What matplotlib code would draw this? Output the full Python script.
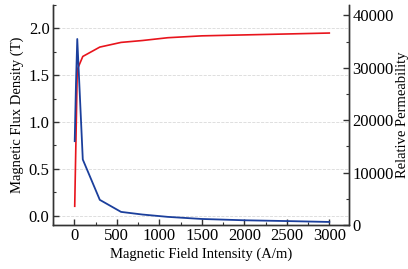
import matplotlib.pyplot as plt
from matplotlib.ticker import MultipleLocator

# B-H curve (left axis)
h_b = [5, 35, 100, 300, 550, 800, 1100, 1500, 2000, 2500, 3000]
flux = [0.1, 1.56, 1.70, 1.80, 1.85, 1.87, 1.90, 1.92, 1.93, 1.94, 1.95]

# relative permeability (right axis)
h_mu = [5, 20, 35, 100, 300, 550, 800, 1100, 1500, 2000, 2500, 3000]
perm = [16000, 27000, 35500, 12500, 4800, 2500, 2000, 1550, 1150, 900, 750, 580]

plt.rcParams['font.family'] = ['Liberation Serif', 'DejaVu Serif']
plt.rcParams['font.size'] = 12

fig = plt.figure(figsize=(4.08, 2.69), dpi=100)
ax = fig.add_axes([0.130, 0.1636, 0.725, 0.818])
ax2 = ax.twinx()

ax.plot(h_b, flux, color='#e8141c', lw=1.2)
ax2.plot(h_mu, perm, color='#1b3f9c', lw=1.3)

ax.set_xlim(-250, 3230)
ax.set_ylim(-0.1, 2.25)
ax2.set_ylim(0, 42000)

ax.xaxis.set_major_locator(MultipleLocator(500))
ax.xaxis.set_minor_locator(MultipleLocator(250))
ax.yaxis.set_major_locator(MultipleLocator(0.5))
ax.yaxis.set_minor_locator(MultipleLocator(0.25))
ax2.yaxis.set_major_locator(MultipleLocator(10000))
ax2.yaxis.set_minor_locator(MultipleLocator(5000))
ax.yaxis.set_major_formatter(lambda v, p: f'{v:.1f}')

for a in (ax, ax2):
    a.spines['top'].set_visible(False)
    for s in a.spines.values():
        s.set_color('#333333')
        s.set_linewidth(1.0)
    a.tick_params(which='major', direction='in', length=4, width=1.0,
                  color='#333333', pad=2.5, labelsize=12)
    a.tick_params(which='minor', direction='in', length=2, width=0.8, color='#333333')

ax.grid(True, axis='y', which='major', ls='--', lw=0.6, color='#d9d9d9')

ax.set_xlabel('Magnetic Field Intensity (A/m)', fontsize=10.5, labelpad=2)
ax.set_ylabel('Magnetic Flux Density (T)', fontsize=10.5, labelpad=3)
ax2.set_ylabel('Relative Permeability', fontsize=10.5, labelpad=2)

fig.savefig('out.png', dpi=100)
